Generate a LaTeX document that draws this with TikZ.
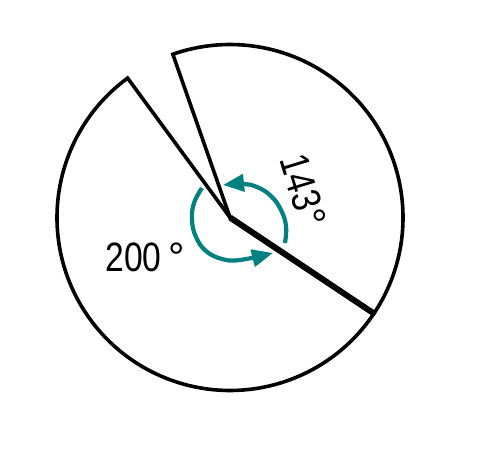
\documentclass[tikz,border=0pt]{standalone}
\usepackage{fontspec}
\newfontfamily\labfont{Liberation Sans}
\usetikzlibrary{arrows.meta}
\definecolor{tealarrow}{RGB}{0,128,128}
\begin{document}
\begin{tikzpicture}[x=0.5pt,y=0.5pt,
  outline/.style={line width=1.8pt, line join=miter, draw=black},
  shared/.style={line width=3pt, draw=black},
  turn/.style={draw=tealarrow, line width=2.1pt, -{Triangle[length=10.5pt,width=8.5pt]}},
  anglelabel/.style={font=\labfont\fontsize{20.5}{24}\selectfont, inner sep=0pt}]
\useasboundingbox (0,0) rectangle (488,451);
\coordinate (V) at (230,233.5);
% 143 degree sector
\draw[outline] (V) -- ++(-33.7:86.5pt) coordinate (R)
  arc[start angle=-33.7,end angle=109.3,radius=86.5pt] coordinate (U) -- cycle;
% 200 degree sector
\draw[outline] (V) -- ++(126.3:86.5pt) coordinate (L)
  arc[start angle=126.3,end angle=326.3,radius=86.5pt] -- cycle;
\draw[shared] (V) -- (R);
% turning arrows
\draw[turn] plot[smooth, tension=0.7] coordinates {(285,208) (286,225) (281,241) (271,255) (257,264) (243,267) (223,266)};
\draw[turn] plot[smooth, tension=0.7] coordinates {(202,263) (194,248) (192,231) (196,214) (206,200) (222,192) (240,191) (273,198)};
% labels
\node[anglelabel] (a200) at (145,193.5) {\scalebox{0.82}[1]{200}\kern3.4pt°};
\node[anglelabel, rotate=-73] (a143) at (303.5,260) {\scalebox{0.82}[1]{143}\kern0.5pt°};
\end{tikzpicture}
\end{document}
